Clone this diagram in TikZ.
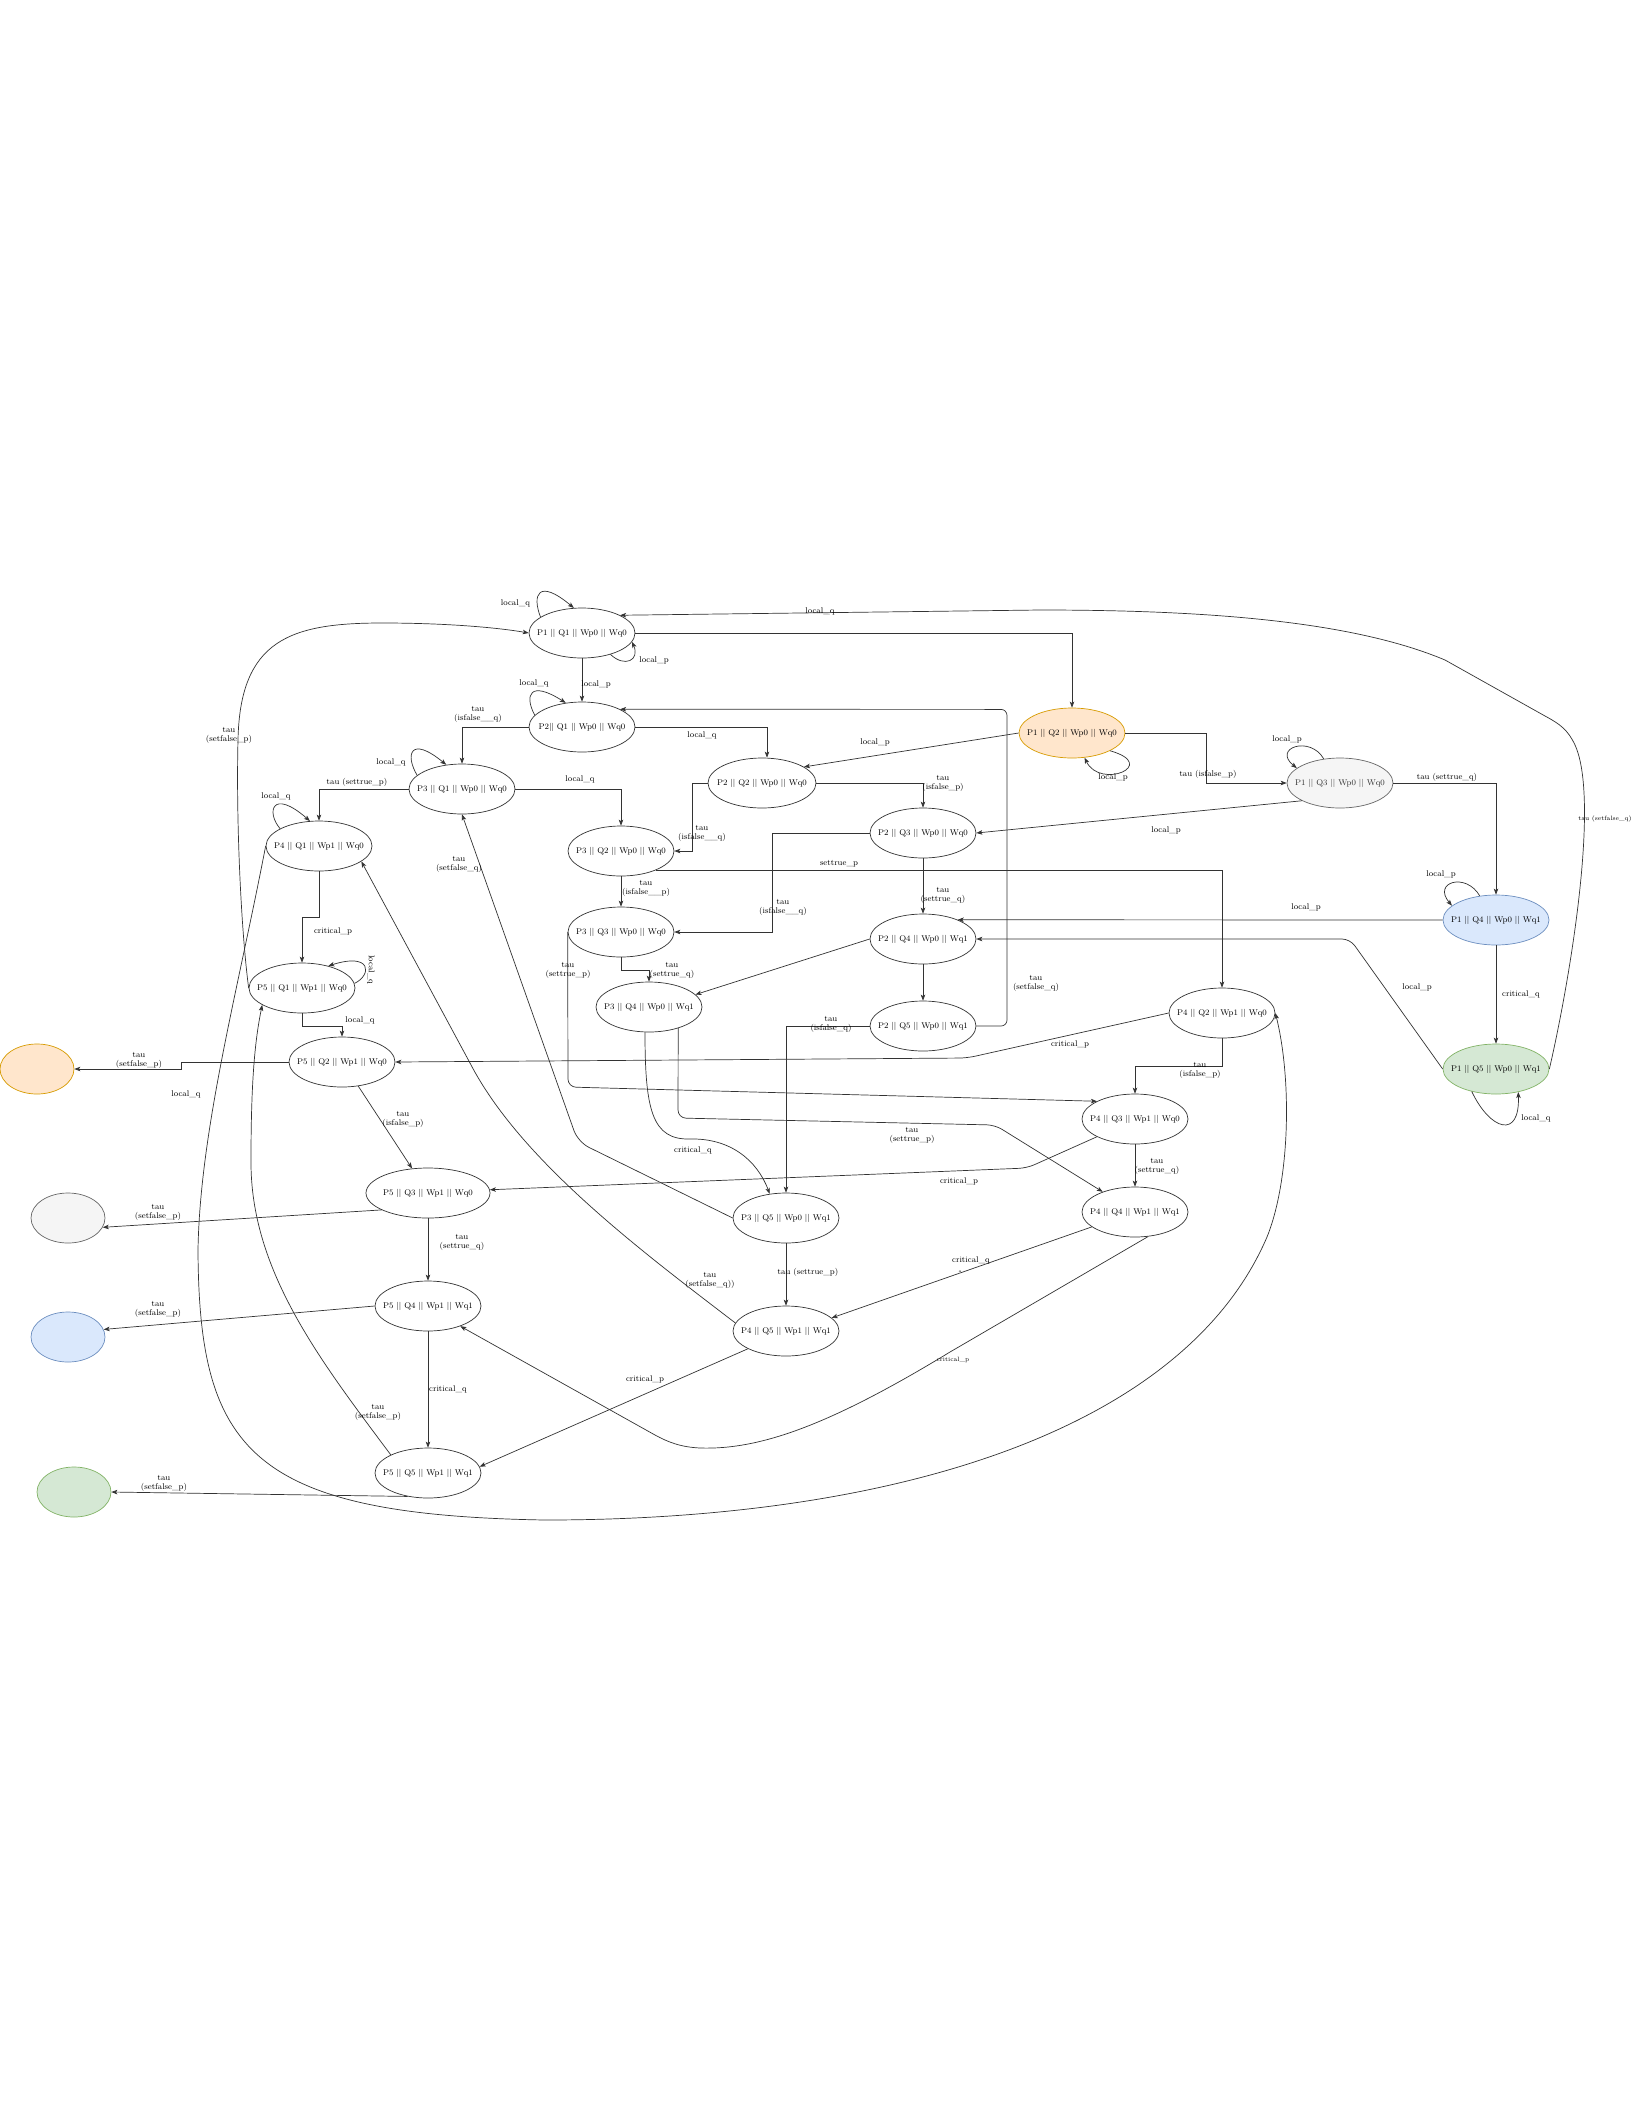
\documentclass[tikz,border=0pt]{standalone}
\usepackage{fontspec}
\usetikzlibrary{shapes.geometric,arrows.meta}
\definecolor{orF}{HTML}{FFE6CC}\definecolor{orD}{HTML}{D79B00}
\definecolor{grF}{HTML}{F5F5F5}\definecolor{grD}{HTML}{666666}\definecolor{grT}{HTML}{333333}
\definecolor{blF}{HTML}{DAE8FC}\definecolor{blD}{HTML}{6C8EBF}
\definecolor{gnF}{HTML}{D5E8D4}\definecolor{gnD}{HTML}{82B366}
\newcommand\nfont{\fontsize{8.3}{9}\selectfont}
\newcommand\smfont{\fontsize{6.2}{7}\selectfont}
\newcommand\ztext[1]{\makebox[0pt]{#1}}
\begin{document}
\begin{tikzpicture}[x=1pt,y=-1pt,
  stn/.style={ellipse, draw=black!80, line width=0.7pt, minimum width=106pt, minimum height=50pt, inner sep=0pt, font=\nfont, fill=white},
  emp/.style={ellipse, line width=0.7pt, minimum width=74pt, minimum height=50pt, inner sep=0pt},
  arr/.style={draw=black!80, line width=0.7pt, -{Stealth[length=6pt,width=4.5pt,inset=1.5pt]}},
  lbl/.style={font=\nfont, align=center, inner sep=0pt},
  slbl/.style={font=\smfont, align=center, inner sep=0pt}]
\fill[white] (0,0) rectangle (1632,2112);
\useasboundingbox (0,0) rectangle (1632,2112);

% states
\node[stn] (n11) at (582,633) {\ztext{P1 || Q1 || Wp0 || Wq0}};
\node[stn] (n21) at (582,727) {\ztext{P2|| Q1 || Wp0 || Wq0}};
\node[stn, fill=orF, draw=orD] (n12) at (1072,733) {\ztext{P1 || Q2 || Wp0 || Wq0}};
\node[stn, minimum width=108pt] (n22) at (762,783) {\ztext{P2 || Q2 || Wp0 || Wq0}};
\node[stn] (n31) at (462,789) {\ztext{P3 || Q1 || Wp0 || Wq0}};
\node[stn, fill=grF, draw=grD, text=grT] (n13) at (1340,783) {\ztext{P1 || Q3 || Wp0 || Wq0}};
\node[stn] (n23) at (923,833) {\ztext{P2 || Q3 || Wp0 || Wq0}};
\node[stn] (n41) at (319,846) {\ztext{P4 || Q1 || Wp1 || Wq0}};
\node[stn] (n32) at (621,851) {\ztext{P3 || Q2 || Wp0 || Wq0}};
\node[stn, fill=blF, draw=blD] (n14) at (1496,920) {\ztext{P1 || Q4 || Wp0 || Wq1}};
\node[stn] (n33) at (621,932) {\ztext{P3 || Q3 || Wp0 || Wq0}};
\node[stn] (n24) at (923,939) {\ztext{P2 || Q4 || Wp0 || Wq1}};
\node[stn] (n51) at (302,988) {\ztext{P5 || Q1 || Wp1 || Wq0}};
\node[stn] (n34) at (649,1007) {\ztext{P3 || Q4 || Wp0 || Wq1}};
\node[stn] (n42) at (1222,1013) {\ztext{P4 || Q2 || Wp1 || Wq0}};
\node[stn] (n25) at (923,1026) {\ztext{P2 || Q5 || Wp0 || Wq1}};
\node[stn] (n52) at (342,1062) {\ztext{P5 || Q2 || Wp1 || Wq0}};
\node[stn, fill=gnF, draw=gnD] (n15) at (1496,1069) {\ztext{P1 || Q5 || Wp0 || Wq1}};
\node[stn] (n43) at (1135,1119) {\ztext{P4 || Q3 || Wp1 || Wq0}};
\node[stn, minimum width=124pt] (n53) at (428,1193) {\ztext{P5 || Q3 || Wp1 || Wq0}};
\node[stn] (n44) at (1135,1212) {\ztext{P4 || Q4 || Wp1 || Wq1}};
\node[stn] (n35) at (786,1218) {\ztext{P3 || Q5 || Wp0 || Wq1}};
\node[stn] (n54) at (428,1306) {\ztext{P5 || Q4 || Wp1 || Wq1}};
\node[stn] (n45) at (786,1331) {\ztext{P4 || Q5 || Wp1 || Wq1}};
\node[stn] (n55) at (428,1473) {\ztext{P5 || Q5 || Wp1 || Wq1}};
\node[emp, fill=orF, draw=orD] (eo) at (37,1069) {};
\node[emp, fill=grF, draw=grD] (eg) at (68,1218) {};
\node[emp, fill=blF, draw=blD] (eb) at (68,1337) {};
\node[emp, fill=gnF, draw=gnD] (egr) at (74,1492) {};

% self loops
\draw[arr] (n11.159) .. controls (532,595) and (538,578) .. (n11.108);
\draw[arr] (n11.-37) .. controls (625,668) and (640,660) .. (n11.-10);
\draw[arr] (n21.166) .. controls (524,695) and (530,680) .. (n21.124);
\draw[arr] (n31.163) .. controls (405,755) and (410,735) .. (n31.123);
\draw[arr] (n41.156) .. controls (266,812) and (272,788) .. (n41.110);
\draw[arr] (n51.5) .. controls (372,975) and (372,952) .. (n51.40);
\draw[arr] (n12.-25) .. controls (1160,765) and (1100,790) .. (n12.-63);
\draw[arr] (n13.124) .. controls (1310,735) and (1272,748) .. (n13.161);
\draw[arr] (n14.124) .. controls (1466,872) and (1432,882) .. (n14.162);
\draw[arr] (n15.223) .. controls (1490,1130) and (1520,1140) .. (n15.-46);

% transitions
\draw[arr] (n11.east) -| (n12.north);
\draw[arr] (n11.south) -- (n21.north);
\draw[arr] (n21.east) -| ([xshift=5pt]n22.north);
\draw[arr] (n21.west) -| (n31.north);
\draw[arr] (n31.west) -| (n41.north);
\draw[arr] (n31.east) -| (n32.north);
\draw[arr] (n12.west) -- (n22.21);
\draw[arr] (n12.east) -- (1206,733) |- (n13.west);
\draw[arr] (n13.east) -| (n14.north);
\draw[arr] (n13.205) -- (n23.east);
\draw[arr] (n22.west) -- (692,783) |- (n32.east);
\draw[arr] (n22.east) -| (n23.north);
\draw[arr] (n23.west) -- (772,833) |- (n33.east);
\draw[arr] (n32.-29) -| (n42.north);
\draw[arr] (n32.south) -- (n33.north);
\draw[arr] (n23.south) -- (n24.north);
\draw[arr] (n14.west) -- (n24.29);
\draw[arr, rounded corners=8pt] (n15.west) -- (1350,939) -- (n24.east);
\draw[arr] (n14.south) -- (n15.north);
\draw[arr] (n24.west) -- (n34.15);
\draw[arr] (n24.south) -- (n25.north);
\draw[arr] (n33.south) -- (621,970) -| (n34.north);
\draw[arr, rounded corners=6pt] (n25.east) -- (1007,1026) -- (1007,709.4) -- (n21.25);
\draw[arr] (n25.west) -| (n35.north);
\draw[arr, rounded corners=8pt] (n33.west) -- (568,1087) -- (n43.155);
\draw[arr, rounded corners=8pt] (n34.-36) -- (678,1118) -- (995,1125) -- (n44.148);
\draw[arr] (n34.-99) .. controls (645,1110) and (652,1140) .. (690,1139) .. controls (730,1138) and (757,1160) .. (n35.124);
\draw[arr, rounded corners=8pt] (n42.west) -- (967,1058) -- (n52.east);
\draw[arr] (n42.south) -- (1222,1066) -| (n43.north);
\draw[arr] (n43.south) -- (n44.north);
\draw[arr, rounded corners=8pt] (n43.205) -- (1027,1168) -- (n53.3);
\draw[arr] (n35.south) -- (n45.north);
\draw[arr] (n44.199) -- (n45.16);
\draw[arr] (n45.205) -- (n55.7);
\draw[arr] (n44.-62) -- (950,1352) .. controls (830,1425) and (760,1450) .. (700,1448) .. controls (680,1447) and (668,1442) .. (655,1435) -- (n54.-32);
\draw[arr] (n45.171) .. controls (640,1250) and (520,1160) .. (470,1063) -- (n41.-20);
\draw[arr, rounded corners=12pt] (n35.west) -- (578,1142) -- (n31.south);
\draw[arr] (n41.south) -- (319,917) -| (n51.north);
\draw[arr] (n51.south) -- (302,1026) -| (n52.north);
\draw[arr] (n51.west) .. controls (241,930) and (236,820) .. (238,740) .. controls (240,640) and (290,623) .. (382,623) .. controls (450,623) and (500,628) .. (n11.west);
\draw[arr] (n41.west) .. controls (238,990) and (200,1130) .. (198,1250) .. controls (199,1450) and (250,1515) .. (545,1520) .. controls (900,1520) and (1185,1428) .. (1267,1237) .. controls (1290,1180) and (1292,1080) .. (n42.east);
\draw[arr] (n15.east) .. controls (1570,980) and (1600,800) .. (1575,745) .. controls (1568,730) and (1560,724) .. (1545,716) -- (1445,660) .. controls (1350,620) and (1200,610) .. (1040,610) -- (n11.25);
\draw[arr] (n52.west) -- (181,1062) -- (181,1069) -- (eo.east);
\draw[arr] (n52.-56) -- (n53.123);
\draw[arr] (n53.200) -- (eg.-15);
\draw[arr] (n53.south) -- (n54.north);
\draw[arr] (n54.west) -- (eb.12);
\draw[arr] (n54.south) -- (n55.north);
\draw[arr] (n55.229) -- (egr.east);
\draw[arr] (n55.154) .. controls (320,1360) and (250,1270) .. (251,1160) .. controls (251,1080) and (255,1040) .. (n51.203);

% labels
\node[lbl] (L1) at (515.5,603) {local\_q};
\node[lbl] (L2) at (654,660) {local\_p};
\node[lbl] (L3) at (596,684) {local\_p};
\node[lbl] (L4) at (534,683) {local\_q};
\node[lbl] (L5) at (702,735) {local\_q};
\node[lbl] (L6) at (478,714) {tau\\(isfalse\_\_q)};
\node[lbl] (L7) at (875,742) {local\_p};
\node[lbl] (L8) at (391,762) {local\_q};
\node[lbl] (L9) at (357,782) {tau (settrue\_p)};
\node[lbl] (L10) at (580,779) {local\_q};
\node[lbl] (L11) at (276,796) {local\_q};
\node[lbl] (L12) at (229,735) {tau\\(setfalse\_p)};
\node[lbl] (L13) at (702,833) {tau\\(isfalse\_\_q)};
\node[lbl] (L14) at (943,783) {tau\\(isfalse\_p)};
\node[lbl] (L15) at (1208,774) {tau (isfalse\_p)};
\node[lbl] (L16) at (1113,777) {local\_p};
\node[lbl] (L17) at (1287,739) {local\_p};
\node[lbl] (L18) at (1447,777) {tau (settrue\_q)};
\node[lbl] (L19) at (1166,830) {local\_p};
\node[lbl] (L20) at (820,611) {local\_q};
\node[slbl] (L21) at (1605,819) {tau (setfalse\_q)};
\node[lbl] (L22) at (1441,874) {local\_p};
\node[lbl] (L23) at (1306,907) {local\_p};
\node[lbl] (L24) at (839,864) {settrue\_p};
\node[lbl] (L25) at (646,888) {tau\\(isfalse\_\_p)};
\node[lbl] (L26) at (943,895) {tau\\(settrue\_q)};
\node[lbl] (L27) at (783,907) {tau\\(isfalse\_\_q)};
\node[lbl] (L28) at (672,970) {tau\\(settrue\_q)};
\node[lbl] (L29) at (568,970) {tau\\(settrue\_p)};
\node[lbl] (L30) at (1521,994) {critical\_q};
\node[lbl] (L31) at (1417,987) {local\_p};
\node[lbl] (L32) at (1536,1118) {local\_q};
\node[lbl] (L33) at (1036,983) {tau\\(setfalse\_q)};
\node[lbl] (L34) at (831,1024) {tau\\(isfalse\_q)};
\node[lbl] (L35) at (1070,1044) {critical\_p};
\node[lbl] (L36) at (1200,1070) {tau\\(isfalse\_p)};
\node[lbl] (L37) at (912,1135) {tau\\(settrue\_p)};
\node[lbl] (L38) at (959,1181) {critical\_p};
\node[lbl] (L39) at (1157,1166) {tau\\(settrue\_q)};
\node[lbl] (L40) at (693,1150) {critical\_q};
\node[lbl] (L41) at (333,931) {critical\_p};
\node[lbl, rotate=-90] (L42) at (371,970) {local\_q};
\node[lbl] (L43) at (360,1020) {local\_q};
\node[lbl] (L44) at (139,1060) {tau\\(setfalse\_p)};
\node[lbl] (L45) at (186,1094) {local\_q};
\node[lbl] (L46) at (403,1119) {tau\\(isfalse\_p)};
\node[lbl] (L47) at (459,864) {tau\\(setfalse\_q)};
\node[lbl] (L48) at (158,1212) {tau\\(setfalse\_p)};
\node[lbl] (L49) at (462,1242) {tau\\(settrue\_q)};
\node[lbl] (L50) at (158,1309) {tau\\(setfalse\_p)};
\node[lbl] (L51) at (448,1389) {critical\_q};
\node[lbl] (L52) at (378,1412) {tau\\(setfalse\_p)};
\node[lbl] (L53) at (164,1483) {tau\\(setfalse\_p)};
\node[lbl] (L54) at (808,1272) {tau (settrue\_p)};
\node[lbl] (L55) at (710,1280) {tau\\(setfalse\_q))};
\node[lbl] (L56) at (971,1260) {critical\_q};
\node[font=\fontsize{4}{4}\selectfont, inner sep=0pt] (L57) at (960,1272) {a};
\node[lbl] (L58) at (645,1379) {critical\_p};
\node[slbl] (L59) at (953,1360) {critical\_p};
\end{tikzpicture}
\end{document}
